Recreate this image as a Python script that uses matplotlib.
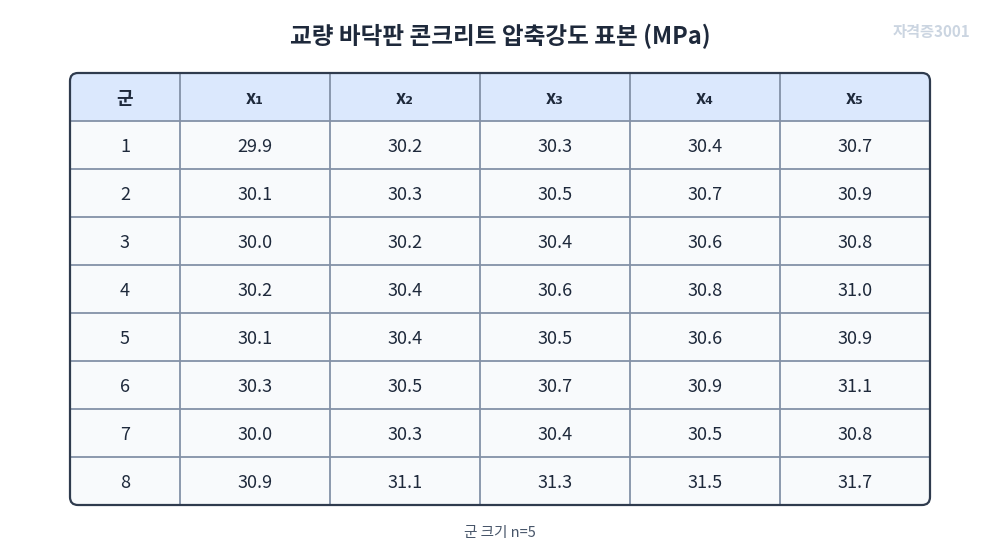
import matplotlib
matplotlib.use("Agg")
import matplotlib.pyplot as plt
from matplotlib.patches import FancyBboxPatch, Rectangle

plt.rcParams['font.family'] = ['Noto Sans CJK KR', 'DejaVu Sans']

title = "교량 바닥판 콘크리트 압축강도 표본 (MPa)"
watermark = "자격증3001"
footnote = "군 크기 n=5"
columns = ["군", "x₁", "x₂", "x₃", "x₄", "x₅"]
groups = ["1", "2", "3", "4", "5", "6", "7", "8"]
x1 = [29.9, 30.1, 30.0, 30.2, 30.1, 30.3, 30.0, 30.9]
x2 = [30.2, 30.3, 30.2, 30.4, 30.4, 30.5, 30.3, 31.1]
x3 = [30.3, 30.5, 30.4, 30.6, 30.5, 30.7, 30.4, 31.3]
x4 = [30.4, 30.7, 30.6, 30.8, 30.6, 30.9, 30.5, 31.5]
x5 = [30.7, 30.9, 30.8, 31.0, 30.9, 31.1, 30.8, 31.7]
series = [x1, x2, x3, x4, x5]

fig = plt.figure(figsize=(10, 5.6), dpi=100)
ax = fig.add_axes([0, 0, 1, 1])
ax.set_xlim(0, 1000)
ax.set_ylim(560, 0)
ax.axis('off')

left, right, top = 70, 930, 73
hh, rh = 48, 48
col_edges = [70, 180, 330, 480, 630, 780, 930]
bottom = top + hh + rh * len(groups)
grid = '#8391a7'
dy = 2

ax.add_patch(FancyBboxPatch((left, top), right - left, bottom - top,
             boxstyle="round,pad=0,rounding_size=8", fc='#f8fafc', ec='none', zorder=0))
ax.add_patch(FancyBboxPatch((left, top), right - left, hh + 10,
             boxstyle="round,pad=0,rounding_size=8", fc='#dbe8fd', ec='none', zorder=1))
ax.add_patch(Rectangle((left, top + hh), right - left, 10, fc='#f8fafc', ec='none', zorder=1))

for i in range(1, len(groups) + 1):
    y = top + hh + rh * (i - 1)
    ax.plot([left, right], [y, y], color=grid, lw=1.3, zorder=2)
for xe in col_edges[1:-1]:
    ax.plot([xe, xe], [top, bottom], color=grid, lw=1.3, zorder=2)

ax.add_patch(FancyBboxPatch((left, top), right - left, bottom - top,
             boxstyle="round,pad=0,rounding_size=8", fc='none', ec='#2f3b4e', lw=1.6, zorder=3))

centers = [(col_edges[i] + col_edges[i + 1]) / 2 for i in range(len(col_edges) - 1)]
for c, lab in zip(centers, columns):
    ax.text(c, top + hh / 2 + dy, lab, ha='center', va='center', fontsize=13,
            fontweight='bold', color='#1e293b', zorder=4)
for r, g in enumerate(groups):
    y = top + hh + rh * r + rh / 2 + dy
    ax.text(centers[0], y, g, ha='center', va='center', fontsize=13, color='#1e293b', zorder=4)
    for k, s in enumerate(series):
        ax.text(centers[k + 1], y, f"{s[r]:.1f}", ha='center', va='center',
                fontsize=13, color='#1e293b', zorder=4)

ax.text(500, 36, title, ha='center', va='center', fontsize=17, fontweight='bold', color='#1e293b')
ax.text(970, 32, watermark, ha='right', va='center', fontsize=11, fontweight='bold', color='#cbd5e1')
ax.text(500, 533, footnote, ha='center', va='center', fontsize=10.5, color='#475569')

fig.savefig("out.png", dpi=100)
